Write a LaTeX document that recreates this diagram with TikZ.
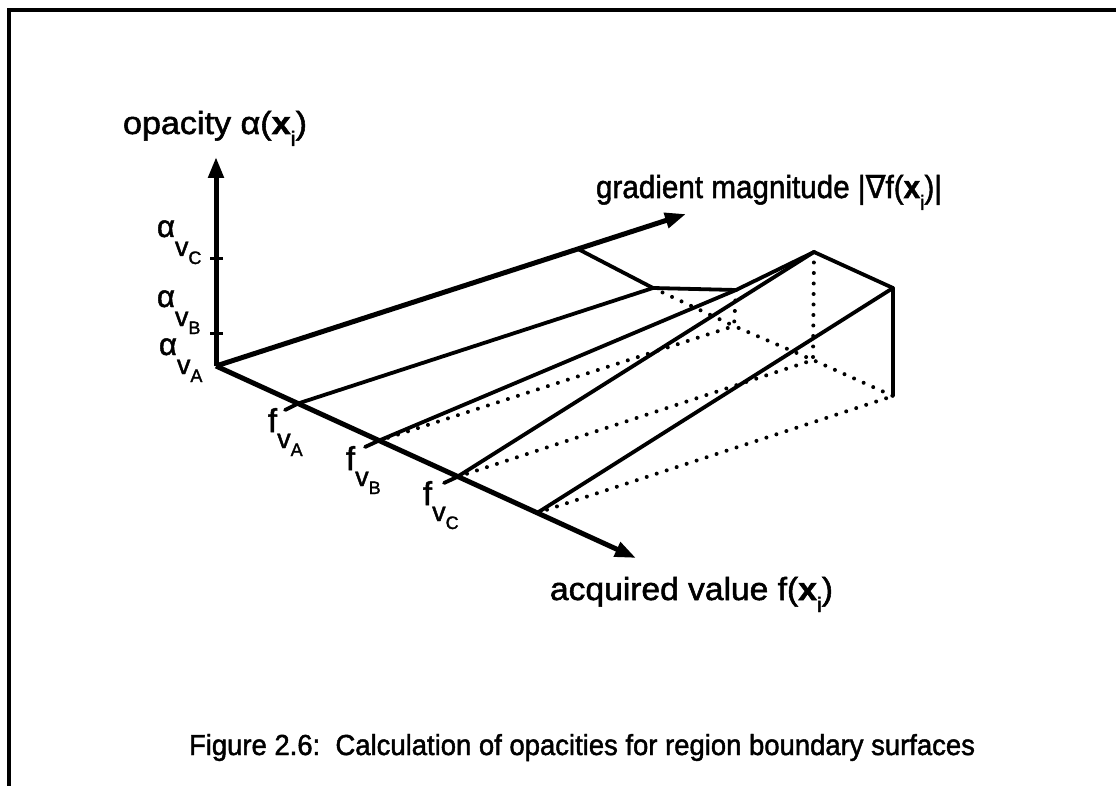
\documentclass[tikz,border=0pt]{standalone}
\usepackage{fontspec}
\usepackage{graphicx}
\setmainfont[FakeBold=1.6]{Liberation Sans}
\newfontfamily\dvs[FakeBold=1.2]{DejaVu Sans}
\usetikzlibrary{arrows.meta}
\newcommand{\fsz}[1]{\fontsize{#1}{#1}\selectfont}
\newcommand{\alab}[1]{{\fsz{31}α}\raisebox{-19pt}{{\fsz{27}v}\raisebox{-8pt}{\fsz{18}#1}}}
\newcommand{\flab}[1]{{\fsz{33}f}\raisebox{-16pt}{{\fsz{27}v}\raisebox{-8pt}{\fsz{18}#1}}}
\newcommand{\xsubi}{\textbf{x}\raisebox{-12pt}{\fsz{21}i}}
\begin{document}
\begin{tikzpicture}[x=1pt,y=-1pt,
  axis/.style={line width=5pt,-{Triangle[length=21pt,width=15pt]}},
  surf/.style={line width=3.8pt,line cap=round,line join=round},
  hid/.style={line width=4pt,line cap=round,dash pattern=on 0pt off 10.5pt},
  lab/.style={anchor=base west,inner sep=0pt,outer sep=0pt},
  tickmark/.style={line width=3pt},
  frame/.style={line width=4pt}]
\useasboundingbox (0,0) rectangle (1116,786);
% frame
\coordinate (FrL) at (9,786);
\coordinate (FrC) at (9,10);
\coordinate (FrR) at (1116,10);
\draw[frame] (FrL) -- (FrC) -- (FrR);
% points
\coordinate (O) at (216,366);
\coordinate (Vt) at (216,157);
\coordinate (Gt) at (686,214);
\coordinate (Ft) at (636,558);
\coordinate (TCl) at (210,259); \coordinate (TCr) at (223,259);
\coordinate (TBl) at (210,333); \coordinate (TBr) at (223,333);
\coordinate (FA) at (298,403.5);
\coordinate (FB) at (378,441);
\coordinate (FC) at (457,477);
\coordinate (FE) at (537,513);
\coordinate (FAt) at (285,410);
\coordinate (FBt) at (365,447);
\coordinate (FCt) at (444,483);
\coordinate (Gm) at (578,249);
\coordinate (P1) at (653,288);
\coordinate (Q2) at (736,290);
\coordinate (P2) at (734,326);
\coordinate (Q3) at (814,252);
\coordinate (P3) at (813,360);
\coordinate (Q4) at (893,288);
\coordinate (P4) at (893,396);
% hidden lines
\draw[hid] (FB) -- (P2);
\draw[hid] (FC) -- (P3);
\draw[hid] (FE) -- (P4);
\draw[hid] (P1) -- (P2) -- (P3) -- (P4);
\draw[hid] (Q2) -- (P2);
\draw[hid] (Q3) -- (P3);
% surface
\draw[surf] (Gm) -- (P1) -- (Q2) -- (Q3) -- (Q4) -- (P4);
\draw[surf] (FAt) -- (FA) -- (P1);
\draw[surf] (FBt) -- (FB) -- (Q2);
\draw[surf] (FCt) -- (FC) -- (Q3);
\draw[surf] (FE) -- (Q4);
% axes
\draw[axis] (O) -- (Vt);
\draw[axis] (O) -- (Gt);
\draw[axis] (O) -- (Ft);
\draw[tickmark] (TCl) -- (TCr);
\draw[tickmark] (TBl) -- (TBr);
% labels
\node[lab] (aC) at (157,237) {\alab{C}};
\node[lab] (aB) at (157,307) {\alab{B}};
\node[lab] (aA) at (159,355) {\alab{A}};
\node[lab] (fA) at (268,432) {\flab{A}};
\node[lab] (fB) at (346,470) {\flab{B}};
\node[lab] (fC) at (423,505) {\flab{C}};
\node[lab] (ylab) at (123,134) {\resizebox{184pt}{\height}{\fsz{32}opacity α(\xsubi)}};
\node[lab] (glab) at (596,198) {\resizebox{346pt}{\height}{\fsz{32}gradient magnitude |{\dvs ∇}f(\xsubi)|}};
\node[lab] (flab) at (550,600) {\resizebox{283pt}{\height}{\fsz{32}acquired value f(\xsubi)}};
\node[lab] (cap) at (189,755) {\resizebox{786pt}{\height}{\fsz{29}Figure 2.6:\ \ Calculation of opacities for region boundary surfaces}};
\end{tikzpicture}
\end{document}
